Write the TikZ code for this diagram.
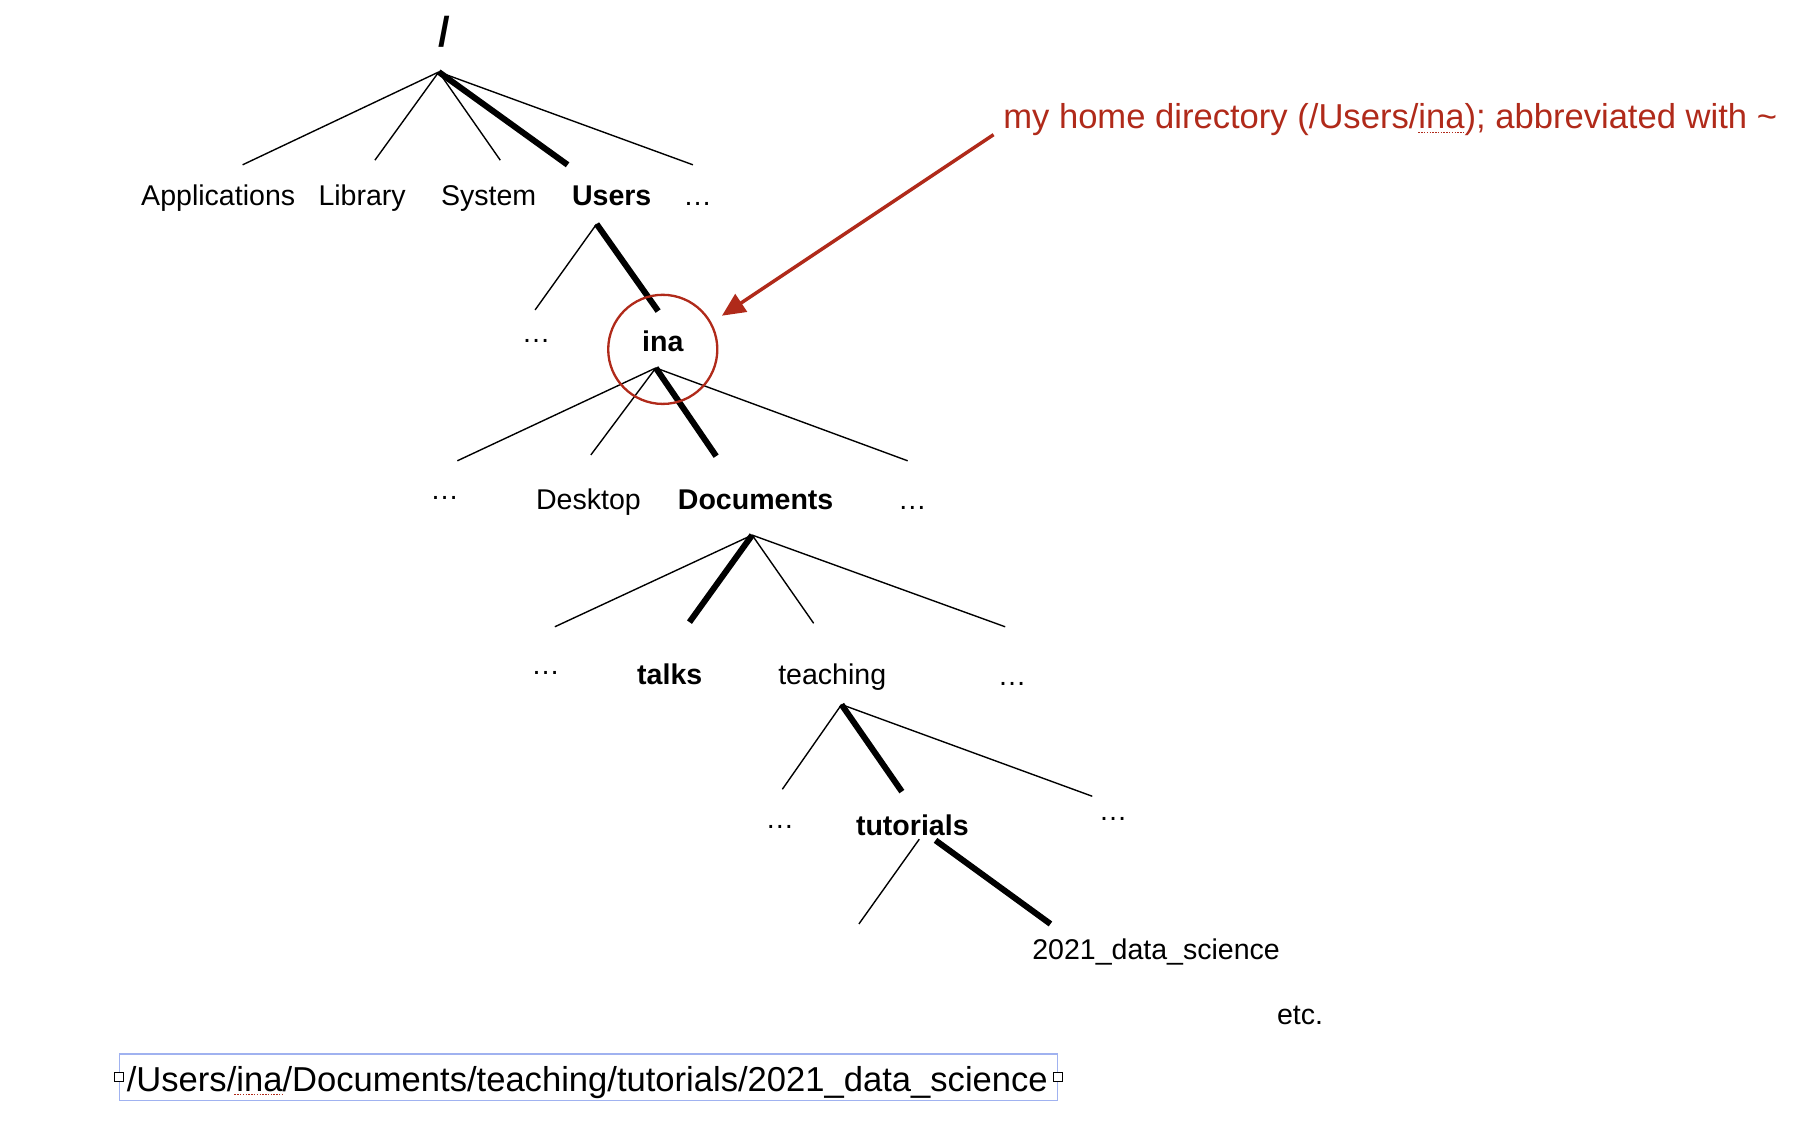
\documentclass[tikz,border=0pt]{standalone}
\usepackage{fontspec}
\setmainfont{Liberation Sans}
\usetikzlibrary{arrows.meta}
\definecolor{redmark}{RGB}{176,42,26}
\definecolor{boxblue}{RGB}{160,178,240}
\begin{document}
\begin{tikzpicture}[x=0.5pt,y=-0.5pt,
  lbl/.style={inner sep=0pt, anchor=base, font=\fontsize{12.3}{14}\selectfont},
  blbl/.style={inner sep=0pt, anchor=base, font=\fontsize{12.3}{14}\selectfont\bfseries},
  twig/.style={line width=0.6pt, line cap=butt},
  trunk/.style={line width=2.6pt, line cap=butt},
  bigtxt/.style={inner sep=0pt, font=\fontsize{14.9}{17}\selectfont},
  handle/.style={draw=black, fill=white, line width=0.4pt, minimum size=4pt, inner sep=0pt},
  spell/.style={draw=redmark, line width=0.6pt, dash pattern=on 0.6pt off 0.6pt}
]
\useasboundingbox (0,0) rectangle (1568,968);

% root
\node[inner sep=0pt, font=\fontsize{18}{20}\selectfont\bfseries] (root) at (383,27) {/};
\coordinate (r0) at (378,62);
\coordinate (e11) at (209,142);
\coordinate (e12) at (323,138);
\coordinate (e13) at (431,138);
\coordinate (e14) at (489,142);
\coordinate (e15) at (597,142);
\draw[twig] (r0) -- (e11);
\draw[twig] (r0) -- (e12);
\draw[twig] (r0) -- (e13);
\draw[trunk] (r0) -- (e14);
\draw[twig] (r0) -- (e15);

\node[lbl] (apps) at (188,177) {Applications};
\node[lbl] (lib) at (312,177) {Library};
\node[lbl] (sys) at (421,177) {System};
\node[blbl] (users) at (527,177) {Users};
\node[lbl] (dots1) at (601,177) {…};

% Users
\coordinate (u0) at (514,193);
\coordinate (e21) at (461,267);
\coordinate (e22) at (567,268);
\draw[twig] (u0) -- (e21);
\draw[trunk] (u0) -- (e22);
\node[lbl] (dots2) at (462,295) {…};
\node[blbl] (ina) at (571,303) {ina};

% ina
\coordinate (i0) at (565,317);
\coordinate (e31) at (394,397);
\coordinate (e32) at (509,392);
\coordinate (e33) at (617,393);
\coordinate (e34) at (782,397);
\draw[twig] (i0) -- (e31);
\draw[twig] (i0) -- (e32);
\draw[trunk] (i0) -- (e33);
\draw[twig] (i0) -- (e34);
\node[lbl] (dots3a) at (383,430) {…};
\node[lbl] (desk) at (507,439) {Desktop};
\node[blbl] (docs) at (651,439) {Documents};
\node[lbl] (dots3b) at (786,439) {…};

% Documents
\coordinate (d0) at (648,461);
\coordinate (e41) at (478,540);
\coordinate (e42) at (594,536);
\coordinate (e43) at (701,537);
\coordinate (e44) at (866,540);
\draw[twig] (d0) -- (e41);
\draw[trunk] (d0) -- (e42);
\draw[twig] (d0) -- (e43);
\draw[twig] (d0) -- (e44);
\node[lbl] (dots4a) at (470,581) {…};
\node[blbl] (talks) at (577,590) {talks};
\node[lbl] (teach) at (717,590) {teaching};
\node[lbl] (dots4b) at (872,591) {…};

% teaching
\coordinate (t0) at (725,607);
\coordinate (e51) at (674,680);
\coordinate (e52) at (777,682);
\coordinate (e53) at (941,686);
\draw[twig] (t0) -- (e51);
\draw[trunk] (t0) -- (e52);
\draw[twig] (t0) -- (e53);
\node[lbl] (dots5a) at (672,714) {…};
\node[blbl] (tut) at (786,720) {tutorials};
\node[lbl] (dots5b) at (959,707) {…};

% tutorials
\coordinate (s1) at (792,723);
\coordinate (s2) at (806,724);
\coordinate (e61) at (740,796);
\coordinate (e62) at (905,796);
\draw[twig] (s1) -- (e61);
\draw[trunk] (s2) -- (e62);
\node[lbl] (ds) at (996,827) {2021\_data\_science};
\node[lbl] (etc) at (1120,883) {etc.};

% annotation
\node[bigtxt, anchor=base west, text=redmark] (note) at (864,111) {my home directory (/Users/ina); abbreviated with \char"007E};
\draw[spell] (1222,114) -- (1262,114);
\node[draw=redmark, line width=1pt, circle, minimum size=47pt, inner sep=0pt] (ring) at (571,301) {};
\coordinate (a0) at (856,116);
\coordinate (a1) at (622,272);
\draw[redmark, line width=1.5pt, -{Triangle[length=10pt,width=9pt]}] (a0) -- (a1);

% path box
\node[draw=boxblue, line width=0.6pt, minimum width=404pt, minimum height=20pt, inner sep=0pt] (pbox) at (507,928) {};
\node[bigtxt, anchor=base] (path) at (506,940) {/Users/ina/Documents/teaching/tutorials/2021\_data\_science};
\draw[spell] (202,943) -- (243,943);
\node[handle] (hl) at (pbox.west) {};
\node[handle] (hr) at (pbox.east) {};
\end{tikzpicture}
\end{document}
